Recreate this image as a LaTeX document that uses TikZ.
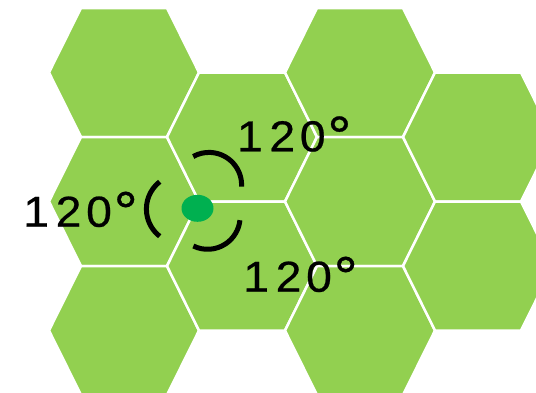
\documentclass[tikz,border=0pt]{standalone}
\usepackage{fontspec}
\newfontfamily\labfont{Liberation Sans}[FakeStretch=1.07,FakeBold=0.5]
\definecolor{hexgreen}{HTML}{92D050}
\definecolor{dotgreen}{HTML}{00B050}
\newcommand\degsym{\raisebox{-4.1pt}{\fontsize{56}{60}\selectfont °}}
\newcommand\labtext{1\kern6.65pt 2\kern4.7pt 0\kern1.8pt\degsym}
\begin{document}
\begin{tikzpicture}[x=1pt,y=-1pt,
  hexcell/.style={fill=hexgreen, draw=white, line width=2.5pt, line join=miter},
  arcline/.style={draw=black, line width=5pt},
  lab/.style={font=\labfont\fontsize{43.3}{50}\selectfont, anchor=base west, inner sep=0pt, outer sep=0pt}]
\useasboundingbox (0,0) rectangle (536,392);
\clip (0,0) rectangle (536,392);
\foreach \cx/\cy in {124/72.5,124/201.5,124/330.5,242/137,242/266,360/72.5,360/201.5,360/330.5,478/137,478/266}
  \filldraw[hexcell] (\cx-75,\cy) -- (\cx-43,\cy-64.5) -- (\cx+43,\cy-64.5) -- (\cx+75,\cy) -- (\cx+43,\cy+64.5) -- (\cx-43,\cy+64.5) -- cycle;
\fill[dotgreen] (197.5,208.3) ellipse[x radius=16, y radius=13.5];
\draw[arcline] (209,185) ++(3:32.6) arc[start angle=3, end angle=-119, radius=32.6];
\draw[arcline] (207.6,216.8) ++(116:32.5) arc[start angle=116, end angle=6, radius=32.5];
\draw[arcline] (181,209) ++(-128:34.6) arc[start angle=-128, end angle=-232, radius=34.6];
\node[lab] (tup) at (237,151.3) {\labtext};
\node[lab] (tleft) at (23.3,226.7) {\labtext};
\node[lab] (tlow) at (243.3,291.7) {\labtext};
\end{tikzpicture}
\end{document}
